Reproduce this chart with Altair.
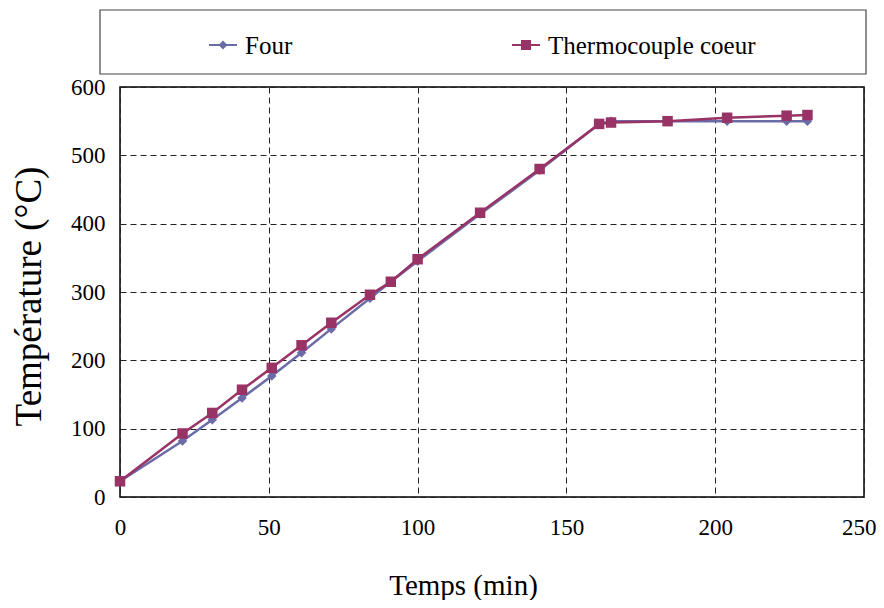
import altair as alt
import pandas as pd

# ---- data ----
times = [0, 21, 31, 41, 51, 61, 71, 84, 91, 100, 121, 141, 161, 165, 184, 204, 224, 231]
four = [23, 82, 113, 145, 177, 211, 246, 291, 315, 345, 414, 478, 546, 550, 550, 550, 550, 550]
thermo = [23, 93, 123, 157, 189, 222, 255, 296, 315, 348, 416, 480, 546, 548, 550, 555, 558, 559]

series_names = ["Four", "Thermocouple coeur"]
series_colors = ["#6B6BA8", "#993366"]
x_ticks = [0, 50, 100, 150, 200, 250]
y_ticks = [0, 100, 200, 300, 400, 500, 600]

df = pd.DataFrame({
    "t": times + times,
    "T": four + thermo,
    "serie": ["Four"] * len(times) + ["Thermocouple coeur"] * len(times),
})
legend_df = pd.DataFrame({"serie": series_names})

FONT = "Liberation Serif"

x_enc = alt.X("t:Q", scale=alt.Scale(domain=[0, 250], nice=False),
              axis=alt.Axis(values=x_ticks, title="Temps (min)", titleX=343, titleY=97,
                            titleBaseline="alphabetic", titleAlign="center",
                            labelPadding=19, titleFontSize=29, labelFlush=False,
                            labelAlign={"condition": {"test": "datum.value >= 250", "value": "right"},
                                        "value": "center"},
                            labelOffset={"condition": {"test": "datum.value >= 250", "value": 12},
                                         "value": 0},
                            labelFont=FONT, titleFont=FONT, labelFontSize=23))
y_enc = alt.Y("T:Q", scale=alt.Scale(domain=[0, 600], nice=False),
              axis=alt.Axis(values=y_ticks, title="Température (°C)", titleX=-91, titleY=209,
                            titleAngle=-90, titleBaseline="middle", titleAlign="center",
                            labelPadding=15, titleFontSize=37, labelFlush=False,
                            labelFont=FONT, titleFont=FONT, labelFontSize=23))

color_scale = alt.Scale(domain=series_names, range=series_colors)

base = alt.Chart(df)

def series_layers(name, shape, size):
    sub = base.transform_filter(alt.datum.serie == name)
    line = sub.mark_line(strokeWidth=2.5).encode(
        x=x_enc, y=y_enc,
        color=alt.Color("serie:N", scale=color_scale, legend=None))
    pts = sub.mark_point(filled=True, opacity=1, shape=shape, size=size).encode(
        x=x_enc, y=y_enc,
        color=alt.Color("serie:N", scale=color_scale, legend=None))
    return line + pts

main = alt.layer(series_layers("Four", "diamond", 90),
                 series_layers("Thermocouple coeur", "square", 110))

# ---- legend drawn as marks (inside a framed box above the plot) ----
path_four = "M-1,-0.07H1V0.07H-1Z M0,-0.32L0.32,0L0,0.32L-0.32,0Z"
path_tc = "M-1,-0.07H1V0.07H-1Z M-0.36,-0.36H0.36V0.36H-0.36Z"

leg_x = alt.X("serie:N", scale=alt.Scale(type="point", domain=series_names, range=[103, 406],
                                         padding=0), axis=None)
leg_base = alt.Chart(legend_df)
leg_symbols = leg_base.mark_point(filled=True, opacity=1, size=784, clip=False).encode(
    x=leg_x, y=alt.value(-42),
    color=alt.Color("serie:N", scale=color_scale, legend=None),
    shape=alt.Shape("serie:N", scale=alt.Scale(domain=series_names, range=[path_four, path_tc]),
                    legend=None),
)
leg_labels = leg_base.mark_text(align="left", baseline="middle", dx=22, dy=1, font=FONT,
                                fontSize=25, color="black", clip=False).encode(
    x=leg_x, y=alt.value(-42), text="serie:N")
legend_layer = alt.layer(leg_symbols, leg_labels)

box = alt.Chart(pd.DataFrame({"k": [0]})).mark_rect(
    fill="transparent", stroke="#444444", strokeWidth=1.2, clip=False
).encode(x=alt.value(-20), x2=alt.value(746), y=alt.value(-77), y2=alt.value(-13))

chart = alt.layer(box, main, legend_layer).resolve_scale(x="independent").properties(
    width=744, height=410,
    autosize=alt.AutoSizeParams(type="none"),
    padding={"left": 112, "top": 79, "right": 12, "bottom": 103},
).configure_view(
    stroke="black", strokeWidth=1.5
).configure_axis(
    grid=True, gridColor="#222222", gridDash=[6, 4], gridWidth=1, gridOpacity=1,
    ticks=False, domain=False,
    labelFont=FONT, labelFontSize=23, labelColor="black",
    titleFont=FONT, titleFontWeight="normal", titleColor="black",
)

chart.save("out.html", embed_options={"renderer": "svg", "actions": False})
